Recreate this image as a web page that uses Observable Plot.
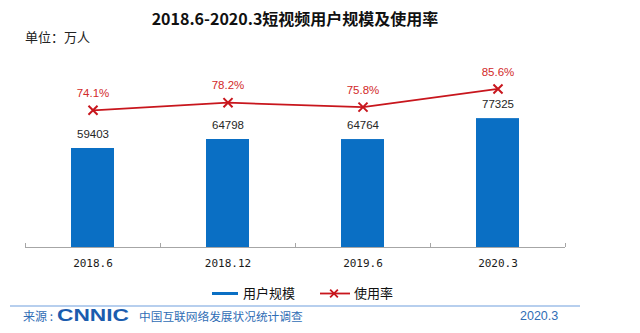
<!DOCTYPE html>
<html><head><meta charset="utf-8">
<script src="https://cdn.jsdelivr.net/npm/d3@7"></script>
<script src="https://cdn.jsdelivr.net/npm/@observablehq/plot@0.6"></script>
<style>
html,body{margin:0;padding:0;background:#fff;}
#wrap{position:relative;width:640px;height:333px;overflow:hidden;font-family:"Noto Sans CJK SC","Noto Sans",sans-serif;}
#wrap svg{position:absolute;left:0;top:0;}
.abs{position:absolute;white-space:nowrap;line-height:1;}
</style></head>
<body><div id="wrap"></div>
<script>
const categories = ["2018.6", "2018.12", "2019.6", "2020.3"];
const users = [59403, 64798, 64764, 77325];
const rates = [74.1, 78.2, 75.8, 85.6];
const rateLabels = ["74.1%", "78.2%", "75.8%", "85.6%"];
const title = "2018.6-2020.3短视频用户规模及使用率";
const unitText = "单位：万人";
const legendNames = ["用户规模", "使用率"];
const sourceLabel = "来源 :";
const sourceOrg = "CNNIC";
const sourceSurvey = "中国互联网络发展状况统计调查";
const sourceDate = "2020.3";

// secondary (rate) axis: 0..108% shares the bar axis 0..120000
const yMax = 120000, rateMax = 108;
const toY = r => r * yMax / rateMax;

const data = categories.map((c, i) => ({cat: c, users: users[i], rate: rates[i], rateLabel: rateLabels[i]}));

const BLUE = "#0a6fc4", RED = "#c8161d";
const numFont = "'Liberation Sans', Arial, sans-serif";

const chart = Plot.plot({
  width: 640, height: 333,
  marginLeft: 25, marginRight: 75, marginTop: 47, marginBottom: 86,
  style: {background: "transparent", overflow: "visible"},
  x: {domain: categories, type: "band", paddingInner: 0.68, paddingOuter: 0.34, label: null},
  y: {domain: [0, yMax], axis: null},
  marks: [
    Plot.barY(data, {x: "cat", y: "users", fill: BLUE}),
    Plot.ruleY([0], {stroke: "#a6a6a6", strokeWidth: 1}),
    Plot.ruleX(data, {x: "cat", y1: 0, y2: 2400, dx: -67.5, stroke: "#a6a6a6"}),
    Plot.ruleX(data.slice(-1), {x: "cat", y1: 0, y2: 2400, dx: 67.5, stroke: "#a6a6a6"}),
    Plot.axisX({tickSize: 0, tickPadding: 12, fontSize: 11, fontFamily: "'DejaVu Sans Mono', 'Liberation Mono', monospace", fill: "#1a1a1a", label: null}),
    Plot.text(data, {x: "cat", y: "users", text: d => String(d.users), dy: -14, fontSize: 11.5, fontFamily: numFont, fill: "#262626", lineAnchor: "middle"}),
    Plot.line(data, {x: "cat", y: d => toY(d.rate), stroke: RED, strokeWidth: 1.8}),
    Plot.dot(data, {x: "cat", y: d => toY(d.rate), symbol: "times", r: 4.2, stroke: RED, strokeWidth: 2}),
    Plot.text(data, {x: "cat", y: d => toY(d.rate), text: "rateLabel", dy: -17, fontSize: 11.5, fontFamily: numFont, fill: "#d22a2a", lineAnchor: "middle"})
  ]
});

const wrap = document.getElementById("wrap");
wrap.appendChild(chart);

function addText(txt, css) {
  const d = document.createElement("div");
  d.className = "abs";
  d.textContent = txt;
  Object.assign(d.style, css);
  wrap.appendChild(d);
  return d;
}
// title & unit
addText(title, {left: "0px", width: "590px", textAlign: "center", top: "10px", fontSize: "16px", fontWeight: "bold", color: "#111"});
addText(unitText, {left: "25px", top: "30px", fontSize: "13px", color: "#222"});

// legend
const sw1 = document.createElement("div");
Object.assign(sw1.style, {position: "absolute", left: "212px", top: "292px", width: "26px", height: "3px", background: BLUE});
wrap.appendChild(sw1);
addText(legendNames[0], {left: "243px", top: "286px", fontSize: "13px", color: "#111"});
const lg = Plot.plot({width: 30, height: 12, margin: 0, x: {domain: [0, 1], axis: null}, y: {domain: [0, 1], axis: null},
  style: {background: "transparent"},
  marks: [Plot.ruleY([0.5], {stroke: RED, strokeWidth: 1.8}), Plot.dot([[0.45, 0.5]], {x: d => d[0], y: d => d[1], symbol: "times", r: 3.6, stroke: RED, strokeWidth: 1.8})]});
Object.assign(lg.style, {position: "absolute", left: "320px", top: "287px"});
wrap.appendChild(lg);
addText(legendNames[1], {left: "354px", top: "286px", fontSize: "13px", color: "#111"});

// footer
const div = document.createElement("div");
Object.assign(div.style, {position: "absolute", left: "10px", top: "305px", width: "570px", height: "2px", background: "#b7cfee"});
wrap.appendChild(div);
addText(sourceLabel, {left: "23px", top: "310px", fontSize: "12px", color: "#2f6db5"});
addText(sourceOrg, {left: "57px", top: "308px", fontSize: "16px", fontWeight: "900", color: "#1b5cae", fontFamily: "'Liberation Sans', Arial, sans-serif",
  transform: "scaleX(1.42)", transformOrigin: "left center"});
addText(sourceSurvey, {left: "139px", top: "310px", fontSize: "11.7px", color: "#2f6db5"});
addText(sourceDate, {left: "520px", top: "310px", fontSize: "12.5px", color: "#2f6db5", fontFamily: numFont});
</script></body></html>
